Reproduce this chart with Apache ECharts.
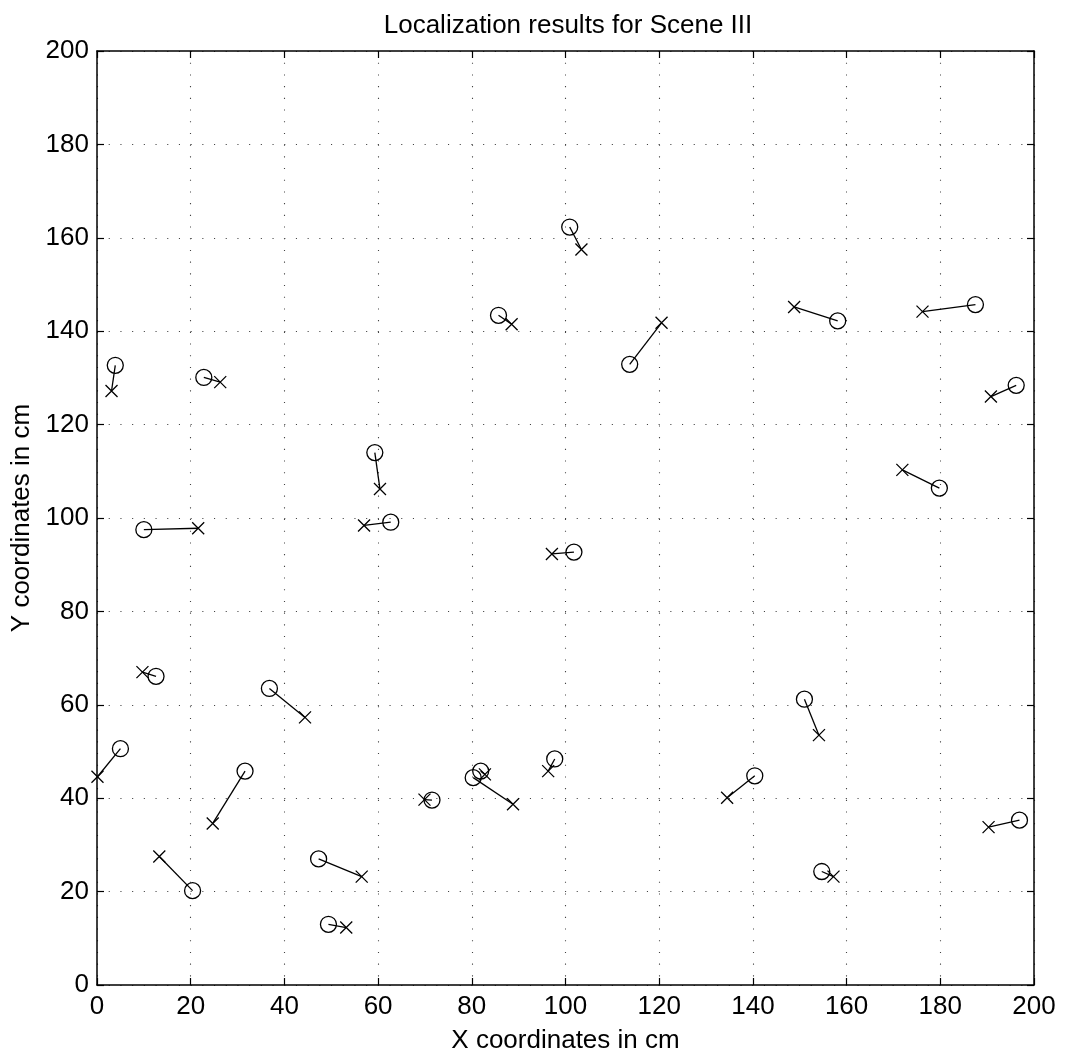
<!DOCTYPE html>
<html>
<head>
<meta charset="utf-8">
<script src="https://cdn.jsdelivr.net/npm/echarts@6/dist/echarts.min.js"></script>
<style>
html,body{margin:0;padding:0;background:#fff;}
#c{width:1065px;height:1059px;}
</style>
</head>
<body>
<div id="c"></div>
<script>
// True positions (circles)
const trueX = [3.9, 22.8, 59.3, 10.0, 62.7, 12.6, 36.8, 5.0, 31.6, 20.4, 47.3, 49.4, 71.5, 100.9, 85.7, 113.7, 101.8, 80.3, 81.9, 97.7, 140.4, 158.1, 187.5, 196.2, 179.8, 151.0, 196.9, 154.7];
const trueY = [132.7, 130.1, 114.0, 97.5, 99.1, 66.1, 63.5, 50.6, 45.8, 20.2, 27.0, 13.0, 39.6, 162.3, 143.4, 132.9, 92.7, 44.4, 45.8, 48.4, 44.8, 142.2, 145.7, 128.4, 106.4, 61.2, 35.3, 24.3];
// Estimated positions (crosses)
const estX = [3.1, 26.3, 60.4, 21.6, 57.0, 9.7, 44.4, 0.1, 24.7, 13.3, 56.5, 53.2, 69.9, 103.4, 88.5, 120.5, 97.1, 88.8, 82.8, 96.3, 134.5, 148.8, 176.2, 190.8, 171.9, 154.1, 190.3, 157.2];
const estY = [127.2, 129.1, 106.2, 97.8, 98.4, 67.0, 57.3, 44.6, 34.6, 27.5, 23.2, 12.3, 39.7, 157.5, 141.5, 141.8, 92.3, 38.7, 45.1, 45.8, 40.1, 145.2, 144.2, 126.0, 110.3, 53.5, 33.8, 23.2];
// Axis ticks
const axisMin = 0, axisMax = 200, axisStep = 20;

const FONT = '"Liberation Sans", Arial, Helvetica, sans-serif';
const truePts = trueX.map((x, i) => [x, trueY[i]]);
const estPts = estX.map((x, i) => [x, estY[i]]);
const segs = trueX.map((x, i) => ({ coords: [[x, trueY[i]], [estX[i], estY[i]]] }));

const chart = echarts.init(document.getElementById('c'), null, { renderer: 'canvas' });
const baseAxis = {
  type: 'value', min: axisMin, max: axisMax, interval: axisStep,
  axisLine: { show: true, onZero: false, lineStyle: { color: '#000', width: 1.5 } },
  axisTick: { show: true, inside: true, length: 7, lineStyle: { color: '#000', width: 1.2 } },
};
chart.setOption({
  animation: false,
  backgroundColor: '#fff',
  title: {
    text: 'Localization results for Scene III',
    left: 563, top: 8, textAlign: 'center',
    textStyle: { fontFamily: FONT, fontSize: 26, fontWeight: 'normal', color: '#000' }
  },
  grid: { left: 97, right: 31, top: 51, bottom: 72, containLabel: false },
  xAxis: [
    Object.assign({}, baseAxis, {
      position: 'bottom',
      name: 'X coordinates in cm', nameLocation: 'middle', nameGap: 43,
      nameTextStyle: { fontFamily: FONT, fontSize: 26, color: '#000' },
      axisLabel: { fontFamily: FONT, fontSize: 26, color: '#000', margin: 9 },
      splitLine: { show: true, lineStyle: { color: '#444', width: 1.1, type: [1.1, 10.6] } }
    }),
    Object.assign({}, baseAxis, {
      position: 'top', axisLabel: { show: false }, splitLine: { show: false }
    })
  ],
  yAxis: [
    Object.assign({}, baseAxis, {
      position: 'left',
      name: 'Y coordinates in cm', nameLocation: 'middle', nameGap: 55,
      nameTextStyle: { fontFamily: FONT, fontSize: 26, color: '#000' },
      axisLabel: { fontFamily: FONT, fontSize: 26, color: '#000', margin: 8 },
      splitLine: { show: true, lineStyle: { color: '#444', width: 1.1, type: [1.1, 10.6] } }
    }),
    Object.assign({}, baseAxis, {
      position: 'right', axisLabel: { show: false }, splitLine: { show: false }
    })
  ],
  series: [
    {
      type: 'lines', coordinateSystem: 'cartesian2d', xAxisIndex: 0, yAxisIndex: 0,
      data: segs, symbol: 'none',
      lineStyle: { color: '#000', width: 1.3, opacity: 1, curveness: 0 },
      silent: true, z: 2
    },
    {
      type: 'scatter', xAxisIndex: 0, yAxisIndex: 0, data: truePts,
      symbol: 'circle', symbolSize: 16,
      itemStyle: { color: 'rgba(0,0,0,0)', borderColor: '#000', borderWidth: 1.3, opacity: 1 },
      silent: true, z: 3
    },
    {
      type: 'scatter', xAxisIndex: 0, yAxisIndex: 0, data: estPts,
      symbol: 'path://M0,0L10,10M0,10L10,0', symbolSize: 12,
      itemStyle: { color: 'rgba(0,0,0,0)', borderColor: '#000', borderWidth: 1.3, opacity: 1 },
      silent: true, z: 3
    }
  ]
});
</script>
</body>
</html>
